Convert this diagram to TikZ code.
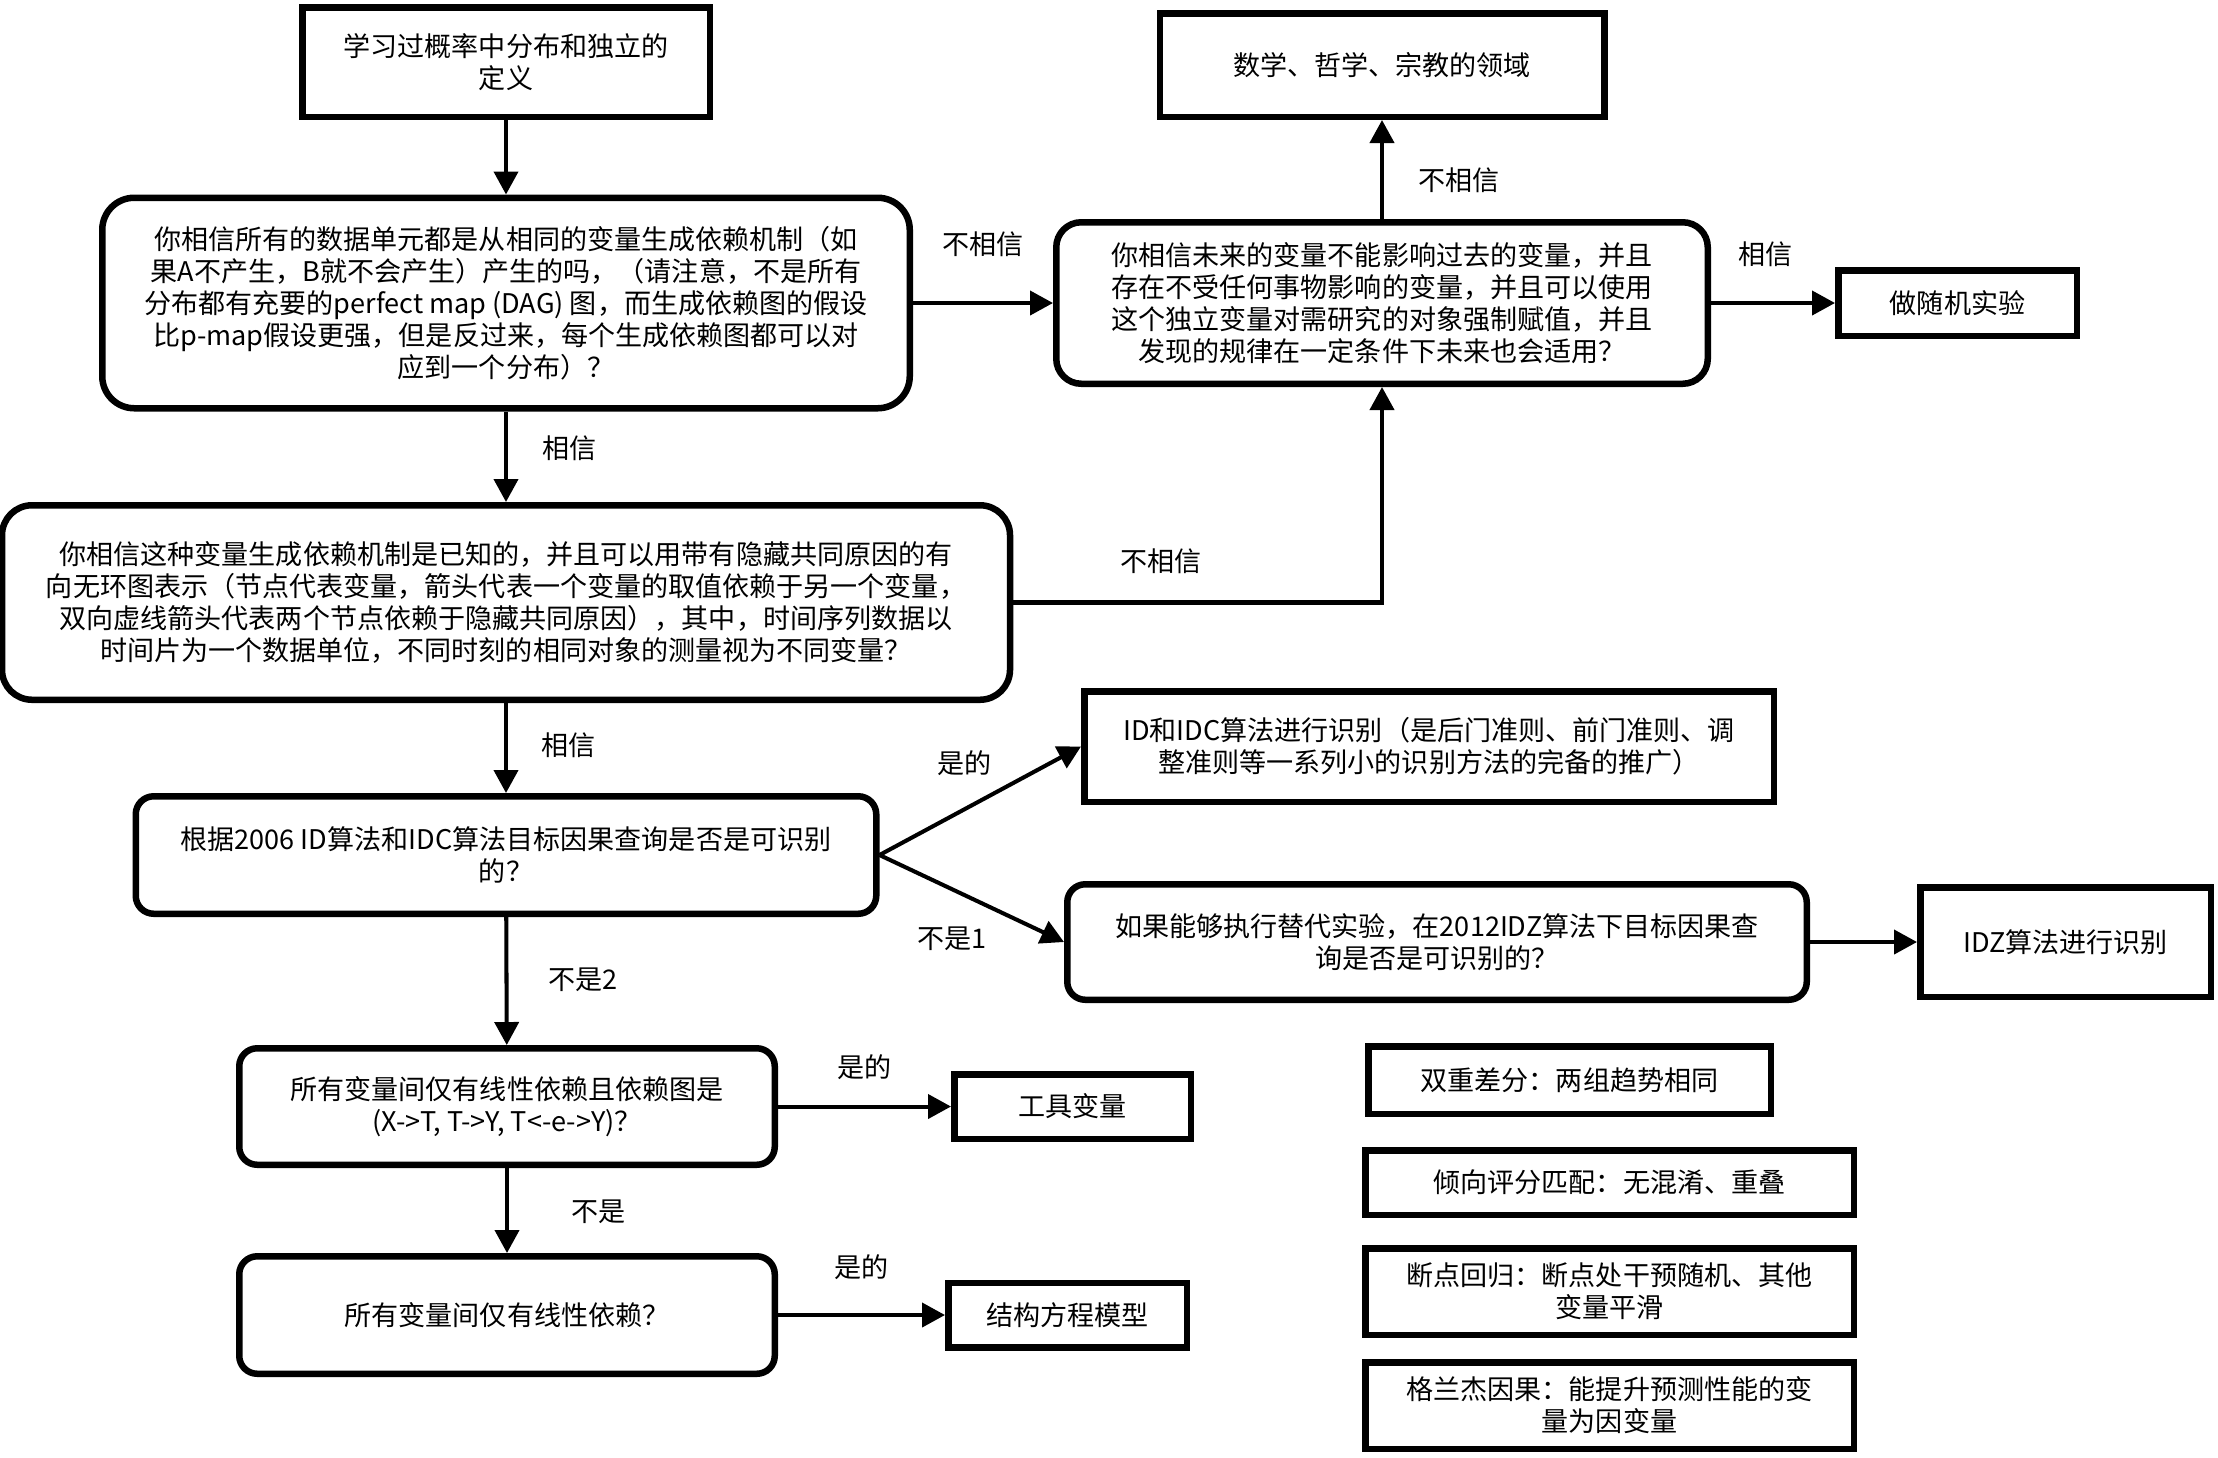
\documentclass[tikz,border=0pt]{standalone}
\usepackage{fontspec}
\setmainfont{Noto Sans CJK SC}
\usetikzlibrary{arrows.meta, positioning}
\tikzset{
    result/.style={rectangle, draw, line width=1.85pt, inner sep=0pt, align=center, font=\fontsize{7.7}{9.1}\selectfont},
    question/.style={result, rounded corners=#1},
    question/.default=0.18cm,
    answer/.style={inner sep=0pt, font=\fontsize{7.7}{9.1}\selectfont},
    flow/.style={draw, line width=1.15pt, -{Triangle[length=0.23cm, width=0.24cm]}}
}

\begin{document}
\begin{tikzpicture}
    \fill[white] (0,0) rectangle (22.18,-14.57);
    \useasboundingbox (0,0) rectangle (22.18,-14.57);

    % main column
    \node[result, minimum width=4.075cm, minimum height=1.095cm] (start) at (5.06,-0.62) {学习过概率中分布和独立的\\定义};
    \node[question=0.32cm, minimum width=8.075cm, minimum height=2.105cm] (belief) at (5.06,-3.03) {你相信所有的数据单元都是从相同的变量生成依赖机制（如\\果A不产生，B就不会产生）产生的吗，（请注意，不是所有\\分布都有充要的perfect map (DAG) 图，而生成依赖图的假设\\比p-map假设更强，但是反过来，每个生成依赖图都可以对\\应到一个分布）？};
    \node[question=0.30cm, minimum width=10.08cm, minimum height=1.945cm] (known) at (5.06,-6.025) {你相信这种变量生成依赖机制是已知的，并且可以用带有隐藏共同原因的有\\向无环图表示（节点代表变量，箭头代表一个变量的取值依赖于另一个变量，\\双向虚线箭头代表两个节点依赖于隐藏共同原因），其中，时间序列数据以\\时间片为一个数据单位，不同时刻的相同对象的测量视为不同变量？};
    \node[question, minimum width=7.405cm, minimum height=1.175cm] (ident) at (5.06,-8.55) {根据2006 ID算法和IDC算法目标因果查询是否是可识别\\的？};
    \node[question, minimum width=5.355cm, minimum height=1.165cm] (linear iv) at (5.07,-11.065) {所有变量间仅有线性依赖且依赖图是\\(X->T, T->Y, T<-e->Y)？};
    \node[question, minimum width=5.355cm, minimum height=1.175cm] (linear) at (5.07,-13.15) {所有变量间仅有线性依赖？};

    % right side
    \node[question=0.25cm, minimum width=6.515cm, minimum height=1.615cm] (time) at (13.82,-3.03) {你相信未来的变量不能影响过去的变量，并且\\存在不受任何事物影响的变量，并且可以使用\\这个独立变量对需研究的对象强制赋值，并且\\发现的规律在一定条件下未来也会适用？};
    \node[result, minimum width=4.445cm, minimum height=1.035cm] (math) at (13.82,-0.65) {数学、哲学、宗教的领域};
    \node[result, minimum width=2.385cm, minimum height=0.655cm] (random) at (19.575,-3.03) {做随机实验};
    \node[result, minimum width=6.895cm, minimum height=1.105cm] (idc) at (14.29,-7.465) {ID和IDC算法进行识别（是后门准则、前门准则、调\\整准则等一系列小的识别方法的完备的推广）};
    \node[question, minimum width=7.395cm, minimum height=1.155cm] (surrogate) at (14.37,-9.42) {如果能够执行替代实验，在2012IDZ算法下目标因果查\\询是否是可识别的？};
    \node[result, minimum width=2.905cm, minimum height=1.095cm] (idz) at (20.655,-9.42) {IDZ算法进行识别};
    \node[result, minimum width=2.365cm, minimum height=0.645cm] (iv) at (10.725,-11.065) {工具变量};
    \node[result, minimum width=2.385cm, minimum height=0.645cm] (sem) at (10.675,-13.15) {结构方程模型};

    % other methods
    \node[result, minimum width=4.025cm, minimum height=0.675cm] (did) at (15.695,-10.80) {双重差分：两组趋势相同};
    \node[result, minimum width=4.885cm, minimum height=0.645cm] (psm) at (16.095,-11.825) {倾向评分匹配：无混淆、重叠};
    \node[result, minimum width=4.885cm, minimum height=0.865cm] (rdd) at (16.095,-12.915) {断点回归：断点处干预随机、其他\\变量平滑};
    \node[result, minimum width=4.885cm, minimum height=0.865cm] (granger) at (16.095,-14.055) {格兰杰因果：能提升预测性能的变\\量为因变量};

    % connectors
    \draw[flow] (start) -- (belief);
    \draw[flow] (belief) -- node[answer, above=0.44cm] {不相信} (time);
    \draw[flow] (time.north) -- node[answer, pos=0.39, right=0.34cm] {不相信} (time.north |- math.south);
    \draw[flow] (time) -- node[answer, pos=0.44, above=0.34cm] {相信} (random);
    \draw[flow] (belief) -- node[answer, pos=0.41, right=0.34cm] {相信} (known);
    \draw[flow] (known.east) -| node[answer, pos=0.2, above=0.27cm] {不相信} (time.south);
    \draw[flow] (known) -- node[answer, pos=0.47, right=0.33cm] {相信} (ident);
    \draw[flow] (ident.east) -- node[answer, midway, xshift=-0.16cm, yshift=0.38cm] {是的} (idc.west);
    \draw[flow] (ident.east) -- node[answer, midway, xshift=-0.2cm, yshift=-0.4cm] {不是1} (surrogate.west);
    \draw[flow] (surrogate) -- (idz);
    \draw[flow] (ident) -- node[answer, pos=0.49, right=0.4cm] {不是2} (linear iv);
    \draw[flow] (linear iv) -- node[answer, above=0.25cm] {是的} (iv);
    \draw[flow] (linear iv) -- node[answer, pos=0.52, right=0.62cm] {不是} (linear);
    \draw[flow] (linear) -- node[answer, above=0.335cm] {是的} (sem);
\end{tikzpicture}
\end{document}
